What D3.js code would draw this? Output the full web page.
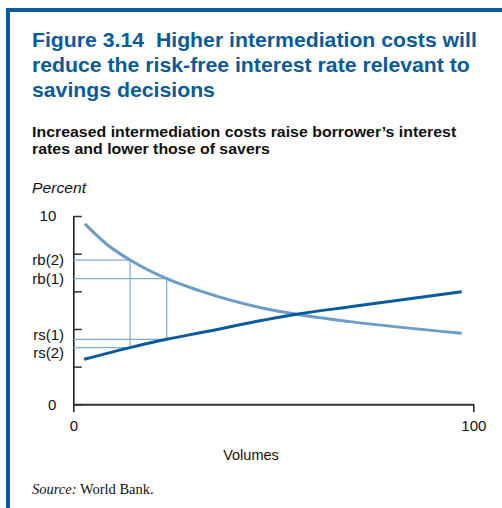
<!DOCTYPE html>
<html>
<head>
<meta charset="utf-8">
<script src="https://cdn.jsdelivr.net/npm/d3@7"></script>
<style>
  html, body { margin: 0; padding: 0; background: #fff; }
  svg { display: block; }
</style>
</head>
<body>
<script>
// Volumes (x) and interest rates in percent (y) for each curve
const borrowerX = [2.9, 8.35, 14.2, 23.35, 31.7, 47.5, 55.85, 69.2, 97.1];
const borrowerY = [9.58, 8.5, 7.66, 6.67, 6.02, 5.1, 4.78, 4.39, 3.77];
const saverX = [2.7, 14.2, 23.35, 31.7, 55.85, 69.2, 97.1];
const saverY = [2.39, 3.01, 3.45, 3.8, 4.78, 5.18, 5.98];

// Equilibrium pairs: volume, borrower rate, saver rate
const caseNames = ["(1)", "(2)"];
const caseVolume = [23.35, 14.2];
const caseBorrowRate = [6.67, 7.66];
const caseSaveRate = [3.45, 3.01];

const yTicks = [0, 2, 4, 6, 8, 10];
const yTickLabels = ["0", "", "", "", "", "10"];
const xTicks = [0, 100];
const xTickLabels = ["0", "100"];

const W = 502, H = 508;
const BLUE = "#0b5a9a";
const LIGHT = "#6b9dc8";
const GUIDE = "#7fabd3";
const sans = "'Liberation Sans', Arial, Helvetica, sans-serif";
const serif = "'Liberation Serif', 'Times New Roman', serif";

const svg = d3.select("body").append("svg").attr("width", W).attr("height", H);

// panel frame: rule across the top and down the left side
svg.append("rect").attr("x", 6).attr("y", 8).attr("width", W - 6).attr("height", 4).attr("fill", BLUE);
svg.append("rect").attr("x", 6).attr("y", 8).attr("width", 4).attr("height", H - 8).attr("fill", BLUE);

// title (set in a slightly extended face)
const title = svg.append("g").attr("transform", "translate(32,0) scale(1.09,1)")
  .append("text")
  .attr("font-family", sans).attr("font-weight", "bold").attr("font-size", 19.5)
  .attr("fill", BLUE).style("white-space", "pre");
["Figure 3.14  Higher intermediation costs will",
 "reduce the risk-free interest rate relevant to",
 "savings decisions"].forEach((t, i) => {
  title.append("tspan").attr("x", 0).attr("y", 47 + i * 25).text(t);
});

// subtitle
const sub = svg.append("g").attr("transform", "translate(32,0) scale(1.075,1)")
  .append("text")
  .attr("font-family", sans).attr("font-weight", "bold").attr("font-size", 14.8).attr("fill", "#111");
["Increased intermediation costs raise borrower\u2019s interest",
 "rates and lower those of savers"].forEach((t, i) => {
  sub.append("tspan").attr("x", 0).attr("y", 137 + i * 17.5).text(t);
});

svg.append("g").attr("transform", "translate(32,0) scale(1.12,1)")
  .append("text").attr("x", 0).attr("y", 193)
  .attr("font-family", sans).attr("font-style", "italic").attr("font-size", 14)
  .attr("fill", "#111").text("Percent");

// scales
const x = d3.scaleLinear().domain([0, 100]).range([73.3, 473.3]);
const y = d3.scaleLinear().domain([0, 10]).range([404.3, 216]);

// y axis: ticks point into the plot, labels only at the ends
const yAxis = svg.append("g").attr("transform", `translate(${x(0)},0)`)
  .call(d3.axisLeft(y).tickValues(yTicks).tickSizeInner(-8.5).tickSizeOuter(0)
    .tickPadding(17).tickFormat((d, i) => yTickLabels[i]));
yAxis.select(".domain").attr("stroke", "#111").attr("stroke-width", 1.5);
yAxis.selectAll(".tick line").attr("stroke", "#333").attr("stroke-width", 1.5);
yAxis.selectAll(".tick text").attr("font-family", sans).attr("font-size", 15).attr("fill", "#111");

// x axis
const xAxis = svg.append("g").attr("transform", `translate(0,${y(0)})`)
  .call(d3.axisBottom(x).tickValues(xTicks).tickSizeInner(8).tickSizeOuter(0)
    .tickPadding(8).tickFormat((d, i) => xTickLabels[i]));
xAxis.select(".domain").attr("stroke", "#333").attr("stroke-width", 2);
xAxis.selectAll(".tick line").attr("stroke", "#222").attr("stroke-width", 1.5);
xAxis.selectAll(".tick text").attr("font-family", sans).attr("font-size", 15).attr("fill", "#111");

svg.append("text").attr("x", 251).attr("y", 460).attr("text-anchor", "middle")
  .attr("font-family", sans).attr("font-size", 14.5).attr("fill", "#111").text("Volumes");

// guide lines for each equilibrium
const guides = svg.append("g").attr("stroke", GUIDE).attr("stroke-width", 1.2).attr("fill", "none");
caseVolume.forEach((v, i) => {
  guides.append("line").attr("x1", x(0)).attr("x2", x(v))
    .attr("y1", y(caseBorrowRate[i])).attr("y2", y(caseBorrowRate[i]));
  guides.append("line").attr("x1", x(0)).attr("x2", x(v))
    .attr("y1", y(caseSaveRate[i])).attr("y2", y(caseSaveRate[i]));
  guides.append("line").attr("x1", x(v)).attr("x2", x(v))
    .attr("y1", y(caseBorrowRate[i])).attr("y2", y(caseSaveRate[i]));
});

// rate labels beside the axis; the close saver labels are spread apart
const labelG = svg.append("g").attr("font-family", sans).attr("font-size", 15)
  .attr("fill", "#111").attr("text-anchor", "end");
caseNames.forEach((n, i) => {
  labelG.append("text").attr("x", 64).attr("y", y(caseBorrowRate[i])).attr("dy", "0.35em").text("rb" + n);
  const nudge = i === 0 ? -5 : 5;
  labelG.append("text").attr("x", 64).attr("y", y(caseSaveRate[i]) + nudge).attr("dy", "0.35em").text("rs" + n);
});

// curves
const line = d3.line().x(d => x(d[0])).y(d => y(d[1])).curve(d3.curveMonotoneX);
svg.append("path").datum(d3.zip(borrowerX, borrowerY)).attr("d", line)
  .attr("fill", "none").attr("stroke", LIGHT).attr("stroke-width", 3);
svg.append("path").datum(d3.zip(saverX, saverY)).attr("d", line)
  .attr("fill", "none").attr("stroke", BLUE).attr("stroke-width", 3);

// source note
const src = svg.append("text").attr("x", 32).attr("y", 494)
  .attr("font-family", serif).attr("font-size", 14.5).attr("fill", "#111");
src.append("tspan").attr("font-style", "italic").text("Source:");
src.append("tspan").text(" World Bank.");
</script>
</body>
</html>
